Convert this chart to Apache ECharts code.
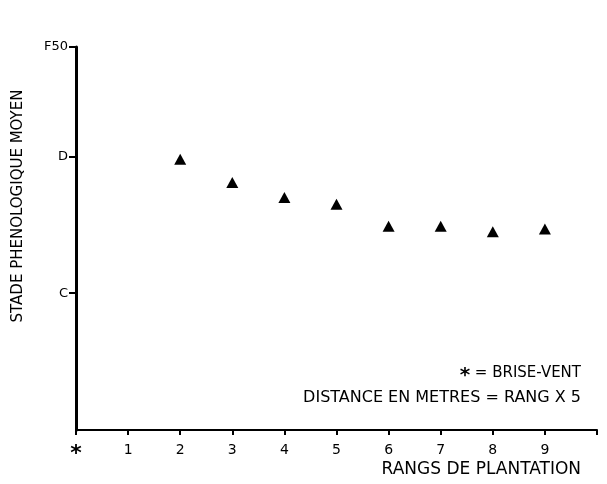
<!DOCTYPE html>
<html lang="fr">
<head>
    <meta charset="UTF-8">
    <title>Stade phenologique</title>
    <style>
        body{margin:0;background:#fff;}
        #chart{width:607px;height:484px;}
    </style>
</head>
<body>
    <div id="chart"></div>
    <script src="https://cdn.jsdelivr.net/npm/echarts@6/dist/echarts.min.js"></script>
    <script>
        // rangs (0 = brise-vent) et stade moyen (C=2, D=3)
        let rangs = [2, 3, 4, 5, 6, 7, 8, 9]
        let stades = [2.98, 2.81, 2.70, 2.65, 2.49, 2.49, 2.45, 2.47]
        let xTicks = ['*', '1', '2', '3', '4', '5', '6', '7', '8', '9']
        let yTickVals = [2, 3, 3.8]
        let yTickNames = {2: 'C', 3: 'D', 3.8: 'F50'}

        let chart = echarts.init(document.getElementById('chart'))
        let font = 'DejaVu Sans'

        let option = {
            animation: false,
            grid: {left: 76, right: 10, top: 47, bottom: 54},
            xAxis: {
                type: 'value', min: 0, max: 10, interval: 1,
                splitLine: {show: false},
                axisLine: {lineStyle: {color: '#000', width: 2}},
                axisTick: {length: 5, lineStyle: {color: '#000', width: 2}},
                axisLabel: {
                    color: '#000', fontFamily: font, fontSize: 14, margin: 13,
                    formatter: v => v === 0 ? '{ast|*}' : (xTicks[v] || ''),
                    rich: {ast: {fontSize: 22, fontWeight: 'bold', fontFamily: font, padding: [0, 0, 6, 0]}}
                }
            },
            yAxis: {
                type: 'value', min: 1, max: 3.8,
                splitLine: {show: false},
                axisLine: {lineStyle: {color: '#000', width: 3}},
                axisTick: {customValues: yTickVals, length: 7, lineStyle: {color: '#000', width: 2}},
                axisLabel: {
                    customValues: yTickVals,
                    color: '#000', fontFamily: font, fontSize: 13, margin: 8,
                    formatter: v => yTickNames[v] || ''
                }
            },
            graphic: [
                {
                    type: 'text', x: 18, y: 206, rotation: Math.PI / 2,
                    style: {text: 'STADE PHENOLOGIQUE MOYEN', font: '15px ' + font, fill: '#000',
                        align: 'center', verticalAlign: 'middle'}
                },
                {
                    type: 'text', x: 581, y: 470,
                    style: {text: 'RANGS DE PLANTATION', font: '17px ' + font, fill: '#000',
                        align: 'right', verticalAlign: 'middle'}
                },
                {
                    type: 'text', x: 581, y: 373,
                    style: {text: '{a|*} = BRISE-VENT', font: '15px ' + font, fill: '#000',
                        align: 'right', verticalAlign: 'middle',
                        rich: {a: {fontSize: 20, fontWeight: 'bold', fontFamily: font, padding: [6, 0, 0, 0]}}}
                },
                {
                    type: 'text', x: 581, y: 398,
                    style: {text: 'DISTANCE EN METRES = RANG X 5', font: '16px ' + font, fill: '#000',
                        align: 'right', verticalAlign: 'middle'}
                }
            ],
            series: [{
                type: 'scatter',
                symbol: 'triangle',
                symbolSize: [12, 11],
                itemStyle: {color: '#000', opacity: 1},
                data: rangs.map((r, i) => [r, stades[i]])
            }]
        }
        chart.setOption(option)
    </script>
</body>
</html>
